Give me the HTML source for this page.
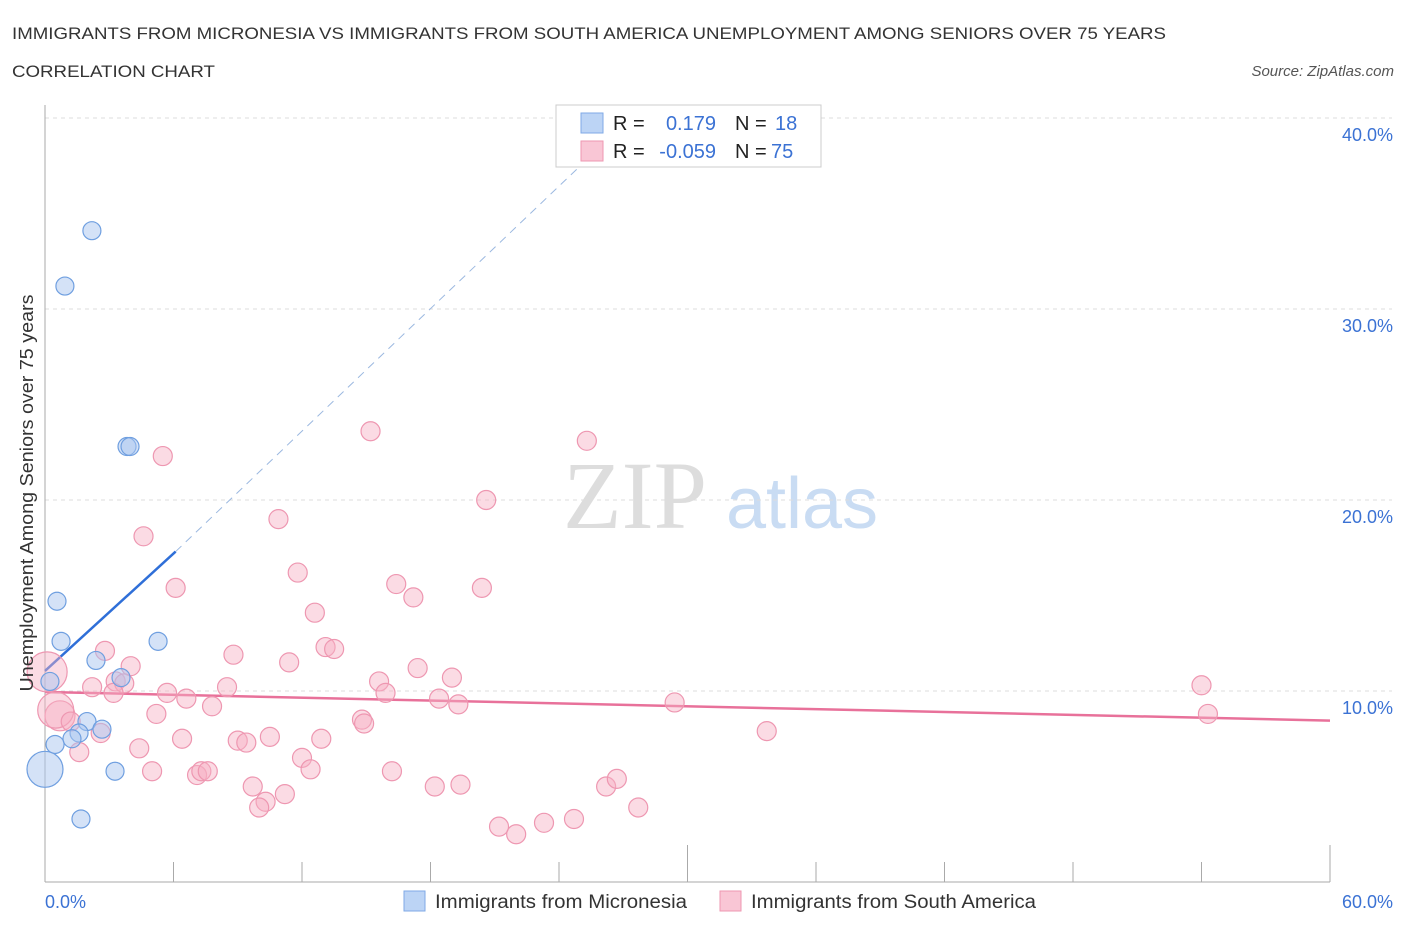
<!DOCTYPE html>
<html><head><meta charset="utf-8"><style>
body{margin:0;background:#fff;font-family:"Liberation Sans",sans-serif;}
</style></head><body>
<svg id="chart" width="1406" height="930" xmlns="http://www.w3.org/2000/svg" font-family="Liberation Sans, sans-serif">
<text x="12" y="39" font-size="17" fill="#333" textLength="1154" lengthAdjust="spacingAndGlyphs">IMMIGRANTS FROM MICRONESIA VS IMMIGRANTS FROM SOUTH AMERICA UNEMPLOYMENT AMONG SENIORS OVER 75 YEARS</text>
<text x="12" y="77" font-size="17" fill="#333" textLength="203" lengthAdjust="spacingAndGlyphs">CORRELATION CHART</text>
<text x="1394" y="76" font-size="15" fill="#555" font-style="italic" text-anchor="end">Source: ZipAtlas.com</text>
<text x="635" y="528" font-size="96" fill="#ddd" style="font-family:'Liberation Serif',serif" text-anchor="middle">ZIP</text>
<text x="802" y="528" font-size="72" fill="#c9dcf3" text-anchor="middle">atlas</text>
<g id="grid"></g>
<g id="axes"></g>
<g id="lines"></g>
<g id="pts"></g>
<text x="33" y="493" font-size="18" fill="#333" text-anchor="middle" textLength="397" lengthAdjust="spacingAndGlyphs" transform="rotate(-90 33 493)">Unemployment Among Seniors over 75 years</text>
<g>
<rect x="556" y="105" width="265" height="62" fill="#fff" stroke="#ccc"/>
<rect x="581" y="113" width="22" height="20" fill="#bcd4f5" stroke="#7fa9e6"/>
<rect x="581" y="141" width="22" height="20" fill="#f9c6d5" stroke="#ee97b1"/>
<text x="613" y="130" font-size="20" fill="#222">R =</text>
<text x="716" y="130" font-size="20" fill="#3b72d4" text-anchor="end">0.179</text>
<text x="735" y="130" font-size="20" fill="#222">N =</text>
<text x="775" y="130" font-size="20" fill="#3b72d4">18</text>
<text x="613" y="158" font-size="20" fill="#222">R =</text>
<text x="716" y="158" font-size="20" fill="#3b72d4" text-anchor="end">-0.059</text>
<text x="735" y="158" font-size="20" fill="#222">N =</text>
<text x="771" y="158" font-size="20" fill="#3b72d4">75</text>
</g>
<g>
<rect x="404" y="891" width="21" height="20" fill="#bcd4f5" stroke="#7fa9e6"/>
<text x="435" y="908" font-size="19" fill="#333" textLength="252" lengthAdjust="spacingAndGlyphs">Immigrants from Micronesia</text>
<rect x="720" y="891" width="21" height="20" fill="#f9c6d5" stroke="#ee97b1"/>
<text x="751" y="908" font-size="19" fill="#333" textLength="285" lengthAdjust="spacingAndGlyphs">Immigrants from South America</text>
</g>
</svg>
<script>
const yTicks=[10,20,30,40];
const yTickLabels=["10.0%","20.0%","30.0%","40.0%"];
const xEnds=["0.0%","60.0%"];
const blueX=[2.19,0.93,3.83,3.97,0.56,0.75,5.28,2.38,3.55,0.23,1.96,2.66,1.59,1.26,0.47,3.27,0,1.68];
const blueY=[34.1,31.2,22.8,22.8,14.7,12.6,12.6,11.6,10.7,10.5,8.4,8.0,7.8,7.5,7.2,5.8,5.9,3.3];
const blueR=[9,9,9,9,9,9,9,9,9,9,9,9,9,9,9,9,18,9];
const pinkX=[15.2,25.3,5.5,20.6,10.9,4.6,11.8,16.4,20.4,6.1,17.2,12.6,13.1,13.5,8.8,11.4,2.8,4.0,17.4,19.0,15.6,3.3,2.2,3.7,15.9,3.2,5.7,8.5,6.6,18.4,19.3,7.8,29.4,54.0,54.3,5.2,14.8,14.9,0.7,0.5,1.2,2.6,33.7,6.4,9.0,10.5,9.4,12.9,4.4,1.6,12.0,12.4,5.0,7.1,7.3,7.6,16.2,9.7,18.2,19.4,26.2,26.7,27.7,11.2,10.3,10.0,21.2,22.0,23.3,24.7,0.1];
const pinkY=[23.6,23.1,22.3,20.0,19.0,18.1,16.2,15.6,15.4,15.4,14.9,14.1,12.3,12.2,11.9,11.5,12.1,11.3,11.2,10.7,10.5,10.5,10.2,10.4,9.9,9.9,9.9,10.2,9.6,9.6,9.3,9.2,9.4,10.3,8.8,8.8,8.5,8.3,8.7,9.0,8.4,7.8,7.9,7.5,7.4,7.6,7.3,7.5,7.0,6.8,6.5,5.9,5.8,5.6,5.8,5.8,5.8,5.0,5.0,5.1,5.0,5.4,3.9,4.6,4.2,3.9,2.9,2.5,3.1,3.3,11.0];
const pinkBig={38:15,39:18,70:20};
const blueTrend=[0,11.05,6.1,17.3,25.0,37.5];
const pinkTrend=[0,9.95,60,8.45];
const X=v=>45+v/60*1285, Y=v=>882-v*19.1;
const NS="http://www.w3.org/2000/svg";
function mk(tag,attrs,parent){const e=document.createElementNS(NS,tag);for(const k in attrs)e.setAttribute(k,attrs[k]);document.getElementById(parent).appendChild(e);return e;}
yTicks.forEach((t,i)=>{
 const g=mk('line',{x1:45,x2:1392,y1:Y(t),y2:Y(t),stroke:'#ddd','stroke-dasharray':'4,4'},'grid');
 
 
 const l=mk('text',{x:1393,y:Y(t)+23,'font-size':18,fill:'#3b72d4','text-anchor':'end'},'axes');
 l.textContent=yTickLabels[i];
 
 
});
const ya=mk('line',{x1:45,x2:45,y1:105,y2:882,stroke:'#aaa'},'axes');


const xa=mk('line',{x1:45,x2:1330,y1:882,y2:882,stroke:'#aaa'},'axes');


for(let i=0;i<=10;i++){const v=i*6;const t=mk('line',{x1:X(v),x2:X(v),y1:i%5==0?845:862,y2:882,stroke:'#aaa'},'axes');
 
 }
xEnds.forEach((s,i)=>{const t=mk('text',{x:i?1393:45,y:908,'font-size':18,fill:'#3b72d4','text-anchor':i?'end':'start'},'axes');t.textContent=s;
 
 });
const bl=mk('line',{x1:X(blueTrend[0]),y1:Y(blueTrend[1]),x2:X(blueTrend[2]),y2:Y(blueTrend[3]),stroke:'#2f6fd8','stroke-width':2.5},'lines');


const bd=mk('line',{x1:X(blueTrend[2]),y1:Y(blueTrend[3]),x2:X(blueTrend[4]),y2:Y(blueTrend[5]),stroke:'#9bb8e0','stroke-width':1,'stroke-dasharray':'8,6'},'lines');


const pl=mk('line',{x1:X(pinkTrend[0]),y1:Y(pinkTrend[1]),x2:X(pinkTrend[2]),y2:Y(pinkTrend[3]),stroke:'#e8719a','stroke-width':2.5},'lines');


pinkX.forEach((x,i)=>{const c=mk('circle',{cx:X(x),cy:Y(pinkY[i]),r:pinkBig[i]||9.5,fill:'rgba(246,175,196,0.45)',stroke:'#ee97b1','stroke-width':1.2},'pts');
 
 });
blueX.forEach((x,i)=>{const c=mk('circle',{cx:X(x),cy:Y(blueY[i]),r:blueR[i],fill:'rgba(170,198,240,0.5)',stroke:'#6f9fe0','stroke-width':1.2},'pts');
 
 });
</script>
</body></html>
